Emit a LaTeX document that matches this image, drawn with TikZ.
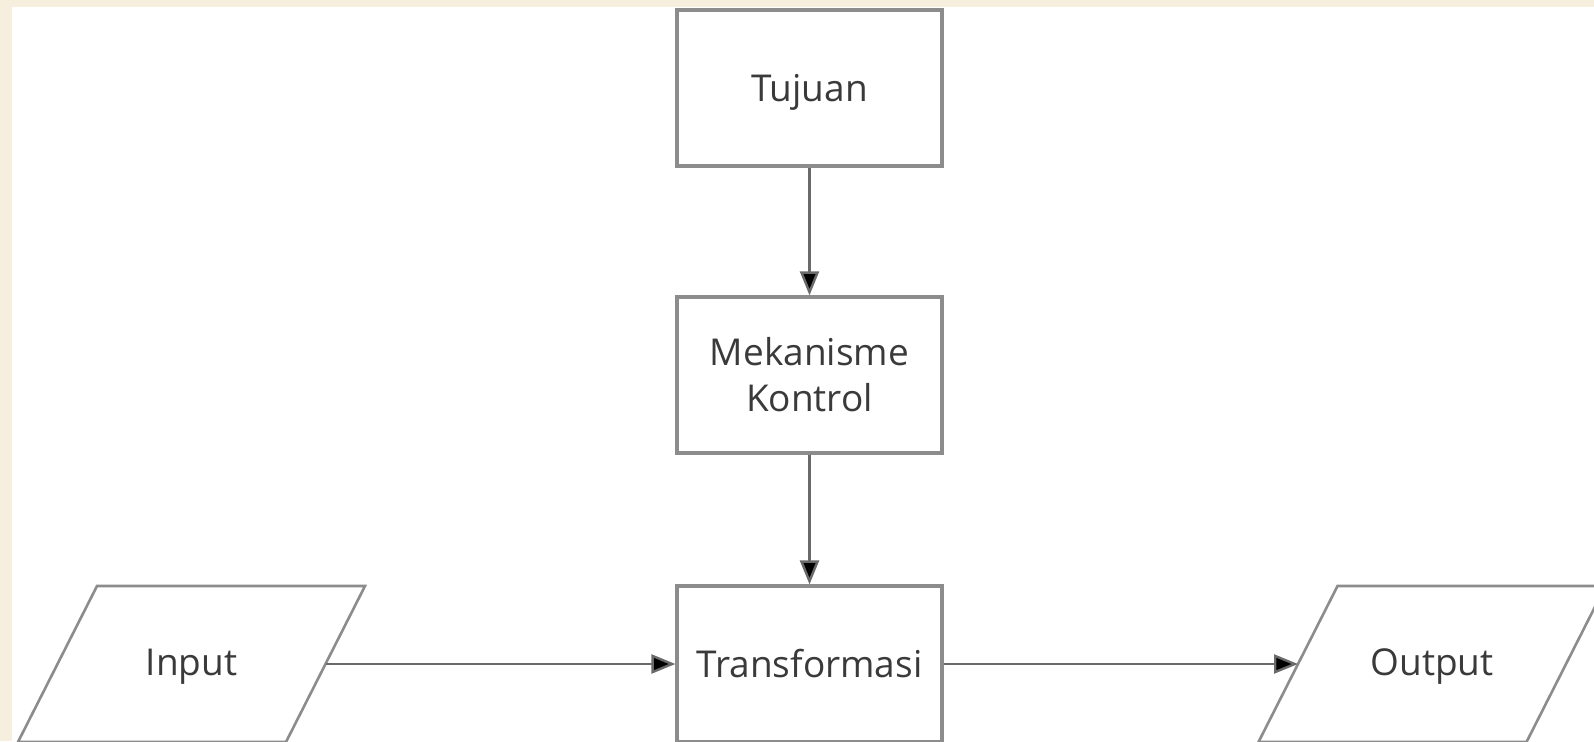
\documentclass[tikz,border=0pt]{standalone}
\usepackage{fontspec}
\setmainfont{Open Sans}
\usetikzlibrary{arrows.meta,calc}
\definecolor{cream}{HTML}{F7EFDD}
\definecolor{edgegray}{HTML}{8C8C8C}
\definecolor{linkgray}{HTML}{6A6A6A}
\definecolor{txt}{HTML}{3A3A3A}
\tikzset{
  procbox/.style={draw=edgegray, line width=3.2pt, fill=white, minimum width=265pt, minimum height=156pt, inner sep=0pt, align=center, text=txt, font=\fontsize{37}{46}\selectfont},
  iotext/.style={inner sep=0pt, text=txt, font=\fontsize{37}{46}\selectfont},
  ioedge/.style={draw=edgegray, line width=2.6pt, fill=white, line join=miter},
  link/.style={draw=linkgray, line width=2.4pt, -{Triangle[length=24pt,width=19pt,fill=black]}}
}
\begin{document}
\begin{tikzpicture}[x=1pt,y=-1pt]
\useasboundingbox (0,0) rectangle (1594,741);
\clip (0,0) rectangle (1594,741);
\fill[cream] (0,0) rectangle (1594,741);
\fill[white] (12,7) rectangle (1594,741);
\node[procbox] (tuj) at (809.5,88) {};
\node[iotext] (tujt) at (809.5,92) {Tujuan};
\node[procbox] (mek) at (809.5,375) {Mekanisme\\Kontrol};
\node[procbox] (tra) at (809.5,664) {Transformasi};
% parallelograms
\coordinate (inpc) at (191.5,664);
\coordinate (outc) at (1432,664);
\draw[ioedge] ($(inpc)+(-94.5,-78)$) -- ++(268,0) -- ++(-79,156) -- ++(-268,0) -- cycle;
\draw[ioedge] ($(outc)+(-94.5,-78)$) -- ++(268,0) -- ++(-79,156) -- ++(-268,0) -- cycle;
\node[iotext] (inp) at ($(inpc)+(0,3)$) {Input};
\node[iotext] (out) at ($(outc)+(0,3)$) {Output};
\coordinate (inpR) at ($(inpc)+(134,0)$);
\coordinate (outL) at ($(outc)+(-134,0)$);
\draw[link] (tuj.south) -- (mek.north);
\draw[link] (mek.south) -- (tra.north);
\draw[link] (inpR) -- (tra.west);
\draw[link] (tra.east) -- (outL);
\end{tikzpicture}
\end{document}
